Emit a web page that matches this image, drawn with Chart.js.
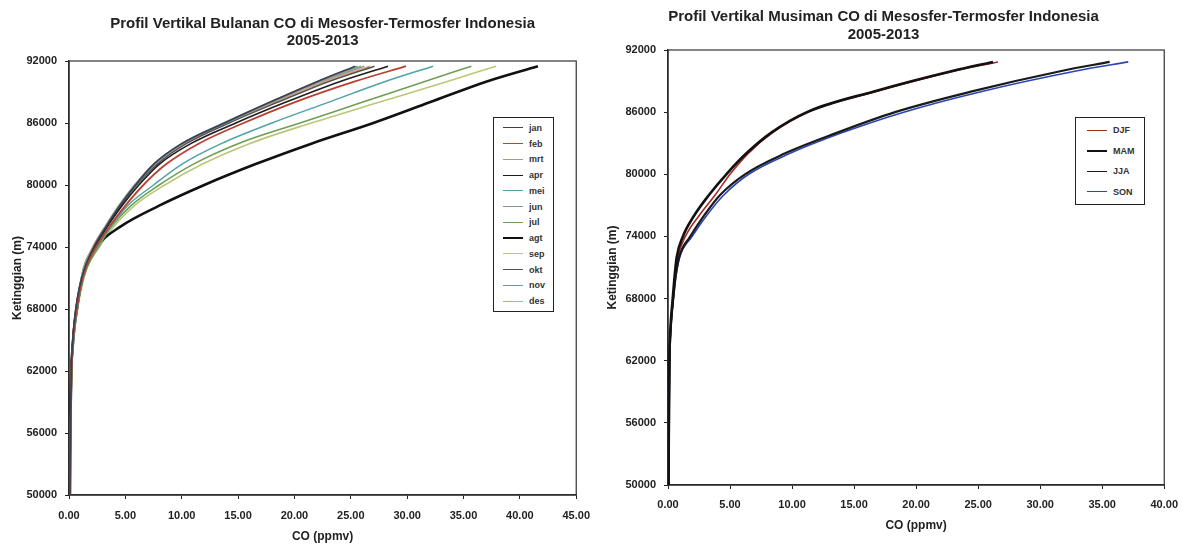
<!DOCTYPE html>
<html>
<head>
<meta charset="utf-8">
<title>Profil Vertikal CO di Mesosfer-Termosfer Indonesia</title>
<script src="https://cdn.jsdelivr.net/npm/chart.js@4.4.1/dist/chart.umd.min.js"></script>
<style>
  body { margin: 0; background: #fff; width: 1187px; height: 546px; overflow: hidden; position: relative;
         font-family: "Liberation Sans", Arial, sans-serif; color: #222; }
  .wrap { position: absolute; top: 0; height: 546px; }
  #leftWrap { left: 0; width: 600px; }
  #rightWrap { left: 600px; width: 587px; }
  .legend { position: absolute; box-sizing: border-box; border: 1.5px solid #222; background: #fff;
            display: flex; flex-direction: column; justify-content: space-around; padding: 2px 0; }
  .legend .item { display: flex; align-items: center; font-size: 9px; font-weight: bold; color: #333; }
  .legend .swatch { display: inline-block; width: 20px; margin-right: 6px; }
  #leftLegend { left: 493px; top: 117px; width: 61px; height: 195px; }
  #leftLegend .item { padding-left: 9px; }
  #rightLegend { left: 475px; top: 117px; width: 70px; height: 88px; }
  #rightLegend .item { padding-left: 11px; }
</style>
</head>
<body>
<div class="wrap" id="leftWrap">
  <canvas id="monthlyChart" width="600" height="546"></canvas>
  <div class="legend" id="leftLegend"></div>
</div>
<div class="wrap" id="rightWrap">
  <canvas id="seasonalChart" width="587" height="546"></canvas>
  <div class="legend" id="rightLegend"></div>
</div>
<script>
// ─── Data ────────────────────────────────────────────────────────────────

// Monthly profiles (left chart): height (m) and CO (ppmv) at each height
const heightsMonthly = [50000, 54000, 58000, 62000, 64000, 66000, 68000, 70000, 72000, 74000,
                        76000, 78000, 80000, 82000, 84000, 86000, 88000, 90000, 91500];
const coJan = [0.08, 0.1, 0.14, 0.2, 0.28, 0.4, 0.6, 0.9, 1.4, 2.2, 3.3, 4.5, 5.9, 7.5, 10.0, 13.8, 17.8, 22.0, 25.4];
const coFeb = [0.1, 0.12, 0.16, 0.22, 0.3, 0.45, 0.7, 1.0, 1.5, 2.4, 3.6, 5.0, 6.6, 8.6, 11.5, 15.5, 20.0, 25.3, 29.9];
const coMrt = [0.09, 0.11, 0.15, 0.21, 0.3, 0.42, 0.62, 0.9, 1.3, 2.1, 3.2, 4.4, 5.8, 7.5, 10.0, 13.8, 17.9, 22.1, 25.9];
const coApr = [0.08, 0.1, 0.14, 0.2, 0.28, 0.4, 0.6, 0.92, 1.4, 2.3, 3.4, 4.7, 6.2, 8.0, 10.8, 14.8, 19.2, 24.0, 28.3];
const coMei = [0.1, 0.12, 0.16, 0.22, 0.32, 0.48, 0.72, 1.05, 1.5, 2.5, 3.7, 5.2, 7.5, 10.0, 13.5, 18.0, 23.0, 28.0, 32.3];
const coJun = [0.09, 0.11, 0.15, 0.21, 0.3, 0.44, 0.66, 0.95, 1.4, 2.2, 3.3, 4.5, 5.9, 7.6, 10.1, 13.9, 18.0, 22.3, 26.2];
const coJul = [0.1, 0.12, 0.16, 0.23, 0.33, 0.5, 0.75, 1.05, 1.6, 2.6, 3.8, 5.5, 8.0, 11.0, 15.0, 20.5, 26.0, 31.5, 35.7];
const coAgt = [0.08, 0.1, 0.14, 0.2, 0.3, 0.45, 0.7, 1.0, 1.4, 2.4, 4.6, 8.0, 12.0, 16.5, 21.5, 27.0, 32.0, 37.0, 41.6];
const coSep = [0.1, 0.12, 0.16, 0.23, 0.34, 0.5, 0.76, 1.1, 1.6, 2.7, 4.0, 5.8, 8.5, 11.8, 16.0, 21.5, 27.5, 33.5, 37.9];
const coOkt = [0.09, 0.11, 0.15, 0.21, 0.3, 0.43, 0.64, 0.95, 1.4, 2.3, 3.4, 4.6, 6.0, 7.8, 10.4, 14.2, 18.5, 23.0, 27.1];
const coNov = [0.08, 0.1, 0.14, 0.2, 0.29, 0.42, 0.62, 0.92, 1.3, 2.2, 3.3, 4.5, 5.9, 7.5, 10.0, 13.7, 17.8, 22.0, 25.6];
const coDes = [0.12, 0.14, 0.18, 0.24, 0.32, 0.46, 0.68, 0.98, 1.3, 2.2, 3.3, 4.5, 5.9, 7.6, 10.2, 14.0, 18.2, 22.6, 26.7];

const monthLabels = ['jan', 'feb', 'mrt', 'apr', 'mei', 'jun', 'jul', 'agt', 'sep', 'okt', 'nov', 'des'];

// Seasonal profiles (right chart)
const heightsSeasonal = [50000, 54000, 58000, 62000, 64000, 66000, 68000, 70000, 72000, 74000,
                         76000, 78000, 80000, 82000, 84000, 86000, 88000, 90000, 90850];
const coDJF = [0.05, 0.07, 0.09, 0.12, 0.17, 0.27, 0.42, 0.58, 0.8, 1.4, 2.5, 3.8, 5.0, 6.45, 8.4, 11.3, 16.8, 23.2, 26.6];
const coMAM = [0.04, 0.06, 0.08, 0.11, 0.15, 0.24, 0.38, 0.52, 0.7, 1.2, 2.1, 3.3, 4.7, 6.3, 8.3, 11.2, 16.6, 23.0, 26.2];
const coJJA = [0.05, 0.07, 0.09, 0.12, 0.17, 0.27, 0.42, 0.6, 0.9, 1.8, 2.9, 4.2, 6.2, 9.4, 13.6, 18.3, 24.5, 31.8, 35.6];
const coSON = [0.06, 0.08, 0.1, 0.13, 0.18, 0.28, 0.44, 0.62, 0.95, 1.95, 3.1, 4.5, 6.5, 9.8, 14.0, 19.0, 25.3, 33.0, 37.1];

const seasonLabels = ['DJF', 'MAM', 'JJA', 'SON'];

// Axis ticks
const heightTicks = [50000, 56000, 62000, 68000, 74000, 80000, 86000, 92000];

// ─── Helpers ─────────────────────────────────────────────────────────────

const FONT = '"Liberation Sans", Arial, sans-serif';

// Pair a CO series with its heights for a scatter line
function profile(coValues, heights) {
    return coValues.map((co, i) => ({ x: co, y: heights[i] }));
}

// Box around the plot area, as in the spreadsheet original
const plotFrame = {
    id: 'plotFrame',
    beforeDatasetsDraw(chart) {
        const { ctx, chartArea: a } = chart;
        ctx.save();
        ctx.strokeStyle = '#333';
        ctx.lineWidth = 1.2;
        ctx.strokeRect(a.left, a.top, a.right - a.left, a.bottom - a.top);
        ctx.restore();
    }
};

function buildOptions(cfg) {
    return {
        responsive: false,
        animation: false,
        layout: { padding: { left: 0, right: cfg.padRight, top: 0, bottom: 0 } },
        plugins: {
            legend: { display: false },
            tooltip: { enabled: false },
            title: {
                display: true,
                fullSize: cfg.titleFullSize,
                text: cfg.title,
                color: '#222',
                font: { family: FONT, size: 15, weight: 'bold', lineHeight: 1.15 },
                padding: { top: cfg.titleTop, bottom: cfg.titleBottom }
            }
        },
        scales: {
            x: {
                type: 'linear',
                min: 0,
                max: cfg.maxX,
                afterFit: (axis) => { axis.height = cfg.xHeight; },
                afterBuildTicks: (axis) => {
                    axis.ticks = [];
                    for (let v = 0; v <= cfg.maxX; v += 5) axis.ticks.push({ value: v });
                },
                grid: { drawOnChartArea: false, drawTicks: true, tickLength: 4, tickColor: '#222' },
                border: { display: true, color: '#222', width: 1.5 },
                ticks: {
                    color: '#222',
                    padding: cfg.xTickPad,
                    maxRotation: 0,
                    font: { family: FONT, size: 11, weight: 'bold' },
                    callback: (v) => Number(v).toFixed(2)
                },
                title: {
                    display: true,
                    text: 'CO (ppmv)',
                    color: '#222',
                    font: { family: FONT, size: 12, weight: 'bold' },
                    padding: { top: 2, bottom: cfg.xTitleBottom }
                }
            },
            y: {
                type: 'linear',
                min: 50000,
                max: 92000,
                afterFit: (axis) => { axis.width = cfg.yWidth; },
                afterBuildTicks: (axis) => { axis.ticks = heightTicks.map(v => ({ value: v })); },
                grid: { drawOnChartArea: false, drawTicks: true, tickLength: 4, tickColor: '#222' },
                border: { display: true, color: '#222', width: 1.5 },
                ticks: {
                    color: '#222',
                    padding: 8,
                    font: { family: FONT, size: 11, weight: 'bold' },
                    callback: (v) => String(v)
                },
                title: {
                    display: true,
                    text: 'Ketinggian (m)',
                    color: '#222',
                    font: { family: FONT, size: 12, weight: 'bold' },
                    padding: { top: cfg.yTitleTop, bottom: 0 }
                }
            }
        }
    };
}

function lineSet(label, data, color, width, order) {
    return {
        label,
        data,
        borderColor: color,
        backgroundColor: color,
        borderWidth: width,
        pointRadius: 0,
        showLine: true,
        fill: false,
        cubicInterpolationMode: 'monotone',
        order: order || 0
    };
}

function buildLegend(el, chart) {
    chart.data.datasets.forEach(ds => {
        const row = document.createElement('div');
        row.className = 'item';
        const sw = document.createElement('span');
        sw.className = 'swatch';
        sw.style.borderTop = `${Math.max(1.5, ds.borderWidth * 0.8)}px solid ${ds.borderColor}`;
        const txt = document.createElement('span');
        txt.textContent = ds.label;
        row.appendChild(sw);
        row.appendChild(txt);
        el.appendChild(row);
    });
}

// ─── Monthly chart ───────────────────────────────────────────────────────

const monthlySeries = [coJan, coFeb, coMrt, coApr, coMei, coJun, coJul, coAgt, coSep, coOkt, coNov, coDes];
const monthColors = ['#3a3f55', '#b8402e', '#93a388', '#1e1e1e', '#4fa3a6', '#8593a3',
                     '#6e9f55', '#111111', '#b9c777', '#555555', '#6d9c9c', '#d9a070'];
const monthWidths = [1.6, 1.8, 1.5, 1.6, 1.5, 1.5, 1.6, 2.6, 1.6, 1.6, 1.5, 1.6];

const monthlyChart = new Chart(document.getElementById('monthlyChart'), {
    type: 'scatter',
    data: {
        datasets: monthlySeries.map((s, i) =>
            lineSet(monthLabels[i], profile(s, heightsMonthly), monthColors[i], monthWidths[i]))
    },
    options: buildOptions({
        title: ['Profil Vertikal Bulanan CO di Mesosfer-Termosfer Indonesia', '2005-2013'],
        titleFullSize: false,
        titleTop: 15, titleBottom: 11.5,
        maxX: 45, padRight: 23,
        xHeight: 51, xTickPad: 10, xTitleBottom: 2,
        yWidth: 69, yTitleTop: 10
    }),
    plugins: [plotFrame]
});
buildLegend(document.getElementById('leftLegend'), monthlyChart);

// ─── Seasonal chart ──────────────────────────────────────────────────────

const seasonalSeries = [coDJF, coMAM, coJJA, coSON];
const seasonColors = ['#a52a24', '#111111', '#1a1a1a', '#2b45b5'];
const seasonWidths = [1.6, 2.6, 2.2, 1.6];
const seasonOrder = [2, 1, 1, 2];

const seasonalChart = new Chart(document.getElementById('seasonalChart'), {
    type: 'scatter',
    data: {
        datasets: seasonalSeries.map((s, i) =>
            lineSet(seasonLabels[i], profile(s, heightsSeasonal), seasonColors[i], seasonWidths[i], seasonOrder[i]))
    },
    options: buildOptions({
        title: ['Profil Vertikal Musiman CO di Mesosfer-Termosfer Indonesia', '2005-2013'],
        titleFullSize: true,
        titleTop: 8.5, titleBottom: 7,
        maxX: 40, padRight: 20,
        xHeight: 61, xTickPad: 9, xTitleBottom: 12.8,
        yWidth: 68, yTitleTop: 5
    }),
    plugins: [plotFrame]
});
buildLegend(document.getElementById('rightLegend'), seasonalChart);
</script>
</body>
</html>
